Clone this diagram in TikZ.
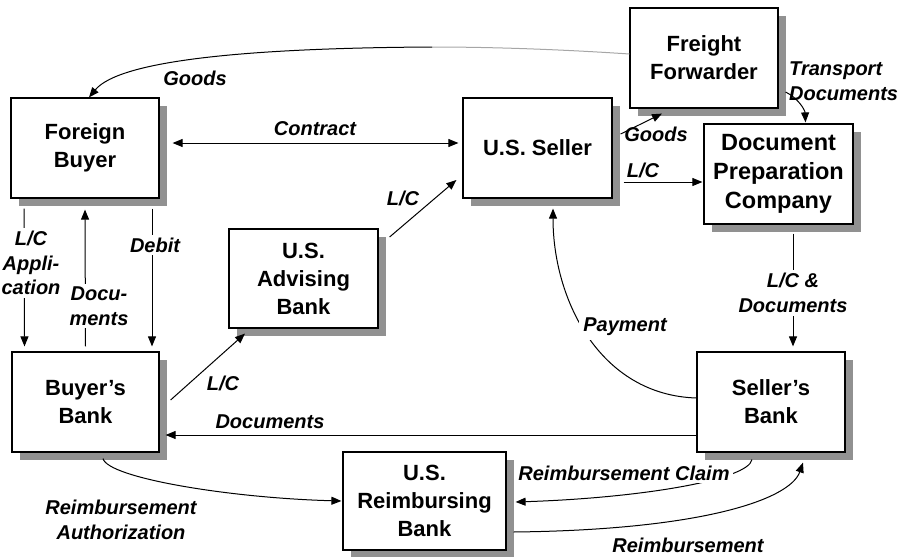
\documentclass[tikz,border=0pt]{standalone}
\usepackage{fontspec}
\setmainfont{Liberation Sans}
\usetikzlibrary{arrows.meta,shadows,calc}
\begin{document}
\begin{tikzpicture}[x=1pt,y=-1pt,
  box/.style={draw, line width=1.2pt, fill=white, align=center,
    font=\fontsize{22}{28}\selectfont\bfseries,
    drop shadow={shadow xshift=8pt, shadow yshift=-8pt, fill=black!43, draw=none, opacity=1}},
  lbl/.style={font=\fontsize{20}{24.5}\selectfont\bfseries\itshape, align=center, inner sep=1pt},
  wlbl/.style={lbl, fill=white, inner sep=3pt},
  ln/.style={line width=1pt},
  arr/.style={line width=1pt, -{Triangle[length=10pt,width=8pt]}},
  darr/.style={line width=1pt, {Triangle[length=10pt,width=8pt]}-{Triangle[length=10pt,width=8pt]}}]
\useasboundingbox (0,0) rectangle (911,557);

% boxes
\node[box, minimum width=148pt, minimum height=100pt] (fb) at (85,148) {Foreign\\Buyer};
\node[box, minimum width=147pt, minimum height=100pt] (bb) at (85.5,402) {Buyer’s\\Bank};
\node[box, minimum width=149pt, minimum height=99pt] (adv) at (303.5,278.5) {U.S.\\Advising\\Bank};
\node[box, minimum width=149pt, minimum height=100pt] (seller) at (537.5,148) {U.S. Seller};
\node[box, minimum width=148pt, minimum height=100pt] (ff) at (704,58) {Freight\\Forwarder};
\node[box, minimum width=149pt, minimum height=100pt, font=\fontsize{23.5}{29}\selectfont\bfseries] (dpc) at (778.5,174) {Document\\Preparation\\Company};
\node[box, minimum width=148pt, minimum height=100pt] (sb) at (771,402) {Seller’s\\Bank};
\node[box, minimum width=163pt, minimum height=98pt] (rb) at (424.5,501) {U.S.\\Reimbursing\\Bank};

% Goods (freight forwarder -> foreign buyer)
\coordinate (gmid) at (432,47);
\draw[ln, draw=black!35] ($(ff.west)+(0,-4)$) .. controls (540,48) and (470,47) .. (gmid);
\draw[arr] (gmid) .. controls (250,48) and (120,60) .. ($(fb.north)+(4,0)$);
\node[lbl] (lgoods1) at (195,78) {Goods};

% Contract
\draw[darr] ($(fb.east)+(13,-5)$) -- ($(seller.west)+(-4,-5)$);
\node[lbl] (lcontract) at (315,129) {Contract};

% Goods seller -> freight forwarder
\draw[arr] ($(seller.east)+(8,-14)$) -- ($(ff.south)+(-42,5)$);
\node[lbl] (lgoods2) at (656,134) {Goods};

% L/C seller -> document preparation
\draw[arr] ($(seller.east)+(11,34)$) -- ($(dpc.west)+(-1,8)$);
\node[lbl] (llc1) at (643,170) {L/C};

% Transport documents
\draw[arr] ($(ff.east)+(7,34)$) .. controls (798,98) and (805,110) .. ($(dpc.north)+(27,-1)$);
\node[lbl, align=left, anchor=west] (ltd) at (788,81) {Transport\\Documents};

% L/C advising -> seller
\draw[arr] ($(adv.east)+(11,-41.5)$) -- ($(seller.west)+(-6,32)$);
\node[lbl] (llc2) at (403,198) {L/C};

% L/C buyer's bank -> advising
\draw[arr] ($(bb.east)+(11,-2)$) -- ($(adv.south)+(-58.5,5)$);
\node[lbl] (llc3) at (223,383) {L/C};

% left column
\draw[arr] ($(fb.south)+(-61,10)$) -- ($(bb.north)+(-61,-5)$);
\node[wlbl] (lapp) at (31,263) {L/C\\Appli-\\cation};
\draw[arr] ($(bb.north)+(0,-5)$) -- ($(fb.south)+(0,11)$);
\node[wlbl] (ldocu) at (99,306) {Docu-\\ments};
\draw[arr] ($(fb.south)+(67,10)$) -- ($(bb.north)+(66.5,-5)$);
\node[wlbl] (ldebit) at (155,245) {Debit};

% Documents seller's bank -> buyer's bank
\draw[arr] ($(sb.west)+(0,33)$) -- ($(bb.east)+(6,33)$);
\node[lbl] (ldocs) at (270,422) {Documents};

% L/C & Documents
\draw[arr] ($(dpc.south)+(14.5,9)$) -- ($(sb.north)+(22,-5)$);
\node[wlbl] (llcd) at (793,293) {L/C \&\\Documents};

% Payment
\draw[arr] ($(sb.west)+(0,-4)$) .. controls (600,395) and (553,300) .. ($(seller.south)+(15.5,10)$);
\node[wlbl, inner sep=4pt] (lpay) at (625,327) {Payment};

% Reimbursement authorization
\draw[arr] ($(bb.south)+(17.5,6)$) .. controls (108,478) and (230,498) .. ($(rb.west)+(-1,0)$);
\node[lbl] (lra) at (121,520) {Reimbursement\\Authorization};

% Reimbursement claim
\draw[arr] ($(sb.south)+(-19,7)$) .. controls (748,480) and (640,498) .. ($(rb.east)+(9,1)$);
\node[wlbl] (lrc) at (624,473) {Reimbursement Claim};

% Reimbursement
\draw[arr] ($(rb.east)+(7,31)$) .. controls (700,530) and (790,500) .. ($(sb.south)+(32,10)$);
\node[lbl] (lr) at (688,545) {Reimbursement};
\end{tikzpicture}
\end{document}
